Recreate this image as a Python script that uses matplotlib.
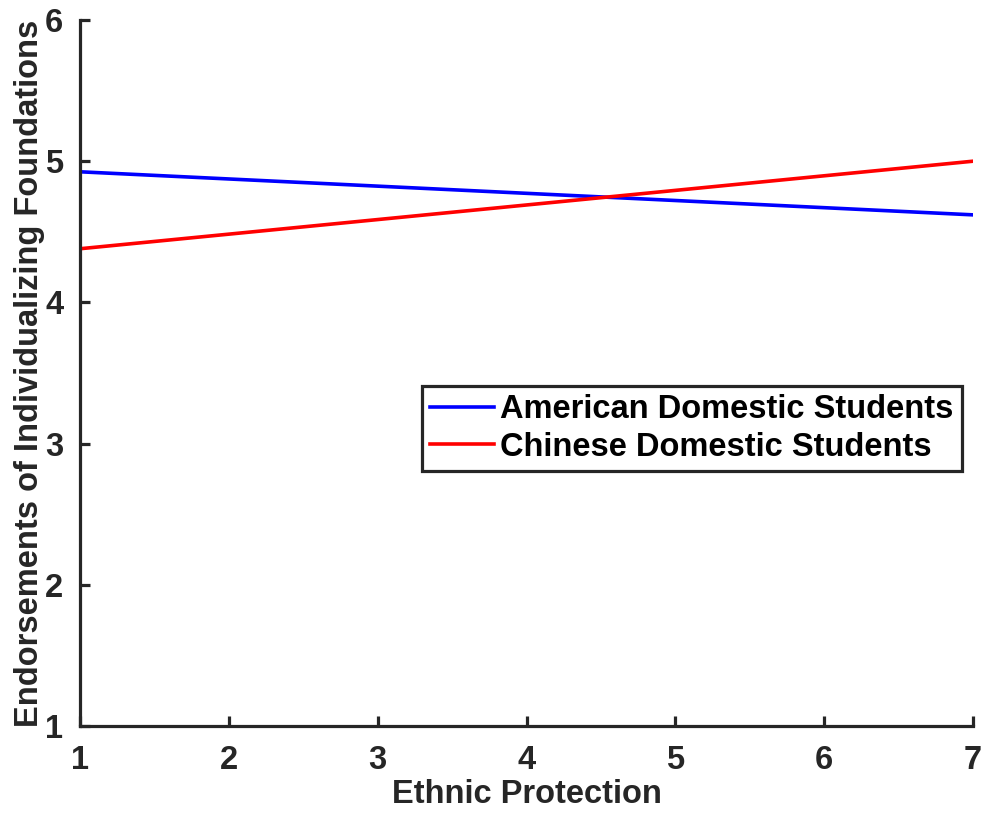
import matplotlib
matplotlib.use("Agg")
from matplotlib import pyplot as plt

# data
xEnds = [1, 7]
american = [4.925, 4.62]
chinese = [4.38, 5.0]
xTicks = [1, 2, 3, 4, 5, 6, 7]
yTicks = [1, 2, 3, 4, 5, 6]

plt.rcParams['font.family'] = ['Liberation Sans', 'DejaVu Sans']
plt.rcParams['font.weight'] = 'bold'
axCol = '#262626'
fs = 23.5

fig = plt.figure(figsize=(9.82, 8.13), dpi=100)
ax = fig.add_axes([80/982, 1 - 726/813, 893/982, 706/813])

ax.plot(xEnds, american, color='#0000ff', lw=2.6, label='American Domestic Students')
ax.plot(xEnds, chinese, color='#ff0000', lw=2.6, label='Chinese Domestic Students')

ax.set_xlim(1, 7)
ax.set_ylim(1, 6)
ax.set_xticks(xTicks)
ax.set_yticks(yTicks)
for s in ['top', 'right']:
    ax.spines[s].set_visible(False)
for s in ['left', 'bottom']:
    ax.spines[s].set_color(axCol)
    ax.spines[s].set_linewidth(2.3)
ax.tick_params(direction='in', length=7, width=2.3, color=axCol,
               labelcolor=axCol, labelsize=fs)
ax.tick_params(axis='x', pad=14)
ax.tick_params(axis='y', pad=12)
for lab in ax.get_xticklabels() + ax.get_yticklabels():
    lab.set_fontweight('bold')

ax.set_xlabel('Ethnic Protection', fontsize=fs, fontweight='bold', color=axCol, labelpad=2)
ax.set_ylabel('Endorsements of Individualizing Foundations', fontsize=fs,
              fontweight='bold', color=axCol, labelpad=0)

leg = ax.legend(loc='upper right', bbox_to_anchor=(0.9877, 0.4816), fontsize=fs,
                frameon=True, fancybox=False, handlelength=1.95, handletextpad=0.2,
                borderpad=0.25, labelspacing=0.2, borderaxespad=0)
leg.get_frame().set_edgecolor(axCol)
leg.get_frame().set_linewidth(2.3)
leg.get_frame().set_alpha(1)
for t in leg.get_texts():
    t.set_fontweight('bold')

fig.savefig('out.png', dpi=100)
